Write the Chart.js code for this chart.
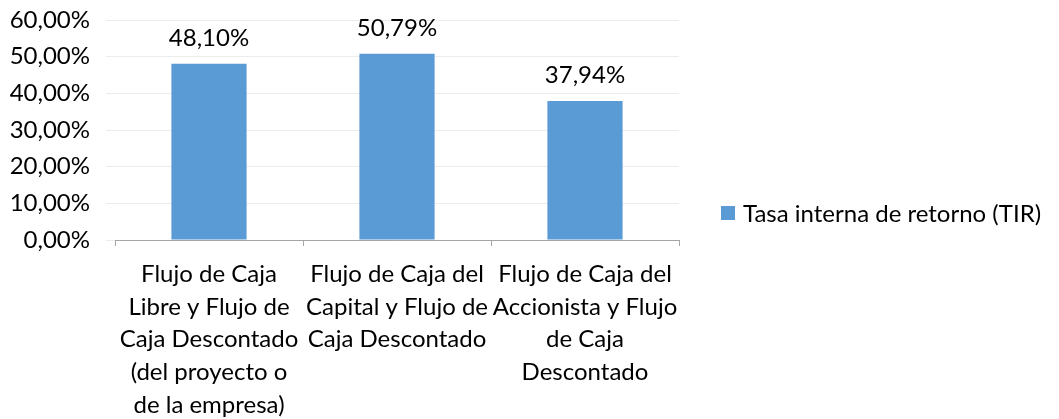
<!DOCTYPE html>
<html>
<head>
<meta charset="utf-8">
<script src="https://cdn.jsdelivr.net/npm/chart.js@4"></script>
<style>
  html, body { margin: 0; padding: 0; background: #fff; }
  #wrap { position: relative; width: 1059px; height: 419px; }
  #legend {
    position: absolute; left: 721px; top: 198px;
    font-family: Lato, sans-serif; font-size: 24px; color: #000;
    display: flex; align-items: center; white-space: nowrap;
  }
  #legend span.box { display: inline-block; width: 14px; height: 14px; background: #5B9BD5; margin-right: 8px; }
</style>
</head>
<body>
<div id="wrap">
  <canvas id="barChart" width="1059" height="419"></canvas>
  <div id="legend"></div>
</div>
<script>
const categories = [
  ['Flujo de Caja', 'Libre y Flujo de', 'Caja Descontado', '(del proyecto o', 'de la empresa)'],
  ['Flujo de Caja del', 'Capital y Flujo de', 'Caja Descontado'],
  ['Flujo de Caja del', 'Accionista y Flujo', 'de Caja', 'Descontado']
];
const tirValues = [0.4810, 0.5079, 0.3794];
const seriesName = 'Tasa interna de retorno (TIR)';
const yTicks = [0, 0.1, 0.2, 0.3, 0.4, 0.5, 0.6];

const fmt = v => (v * 100).toFixed(2).replace('.', ',') + '%';
const FONT = 'Lato, sans-serif';

document.getElementById('legend').innerHTML =
  '<span class="box"></span>' + seriesName;

const valueLabels = {
  id: 'valueLabels',
  afterDatasetsDraw(chart) {
    const ctx = chart.ctx;
    const meta = chart.getDatasetMeta(0);
    ctx.save();
    ctx.font = '24px ' + FONT;
    ctx.fillStyle = '#000';
    ctx.textAlign = 'center';
    ctx.textBaseline = 'alphabetic';
    meta.data.forEach((bar, i) => {
      ctx.fillText(fmt(tirValues[i]), bar.x, bar.y - 18);
    });
    ctx.restore();
  }
};

const ctx = document.getElementById('barChart').getContext('2d');
new Chart(ctx, {
  type: 'bar',
  data: {
    labels: categories,
    datasets: [{
      label: seriesName,
      data: tirValues,
      backgroundColor: '#5B9BD5',
      borderWidth: 0,
      barPercentage: 0.4,
      categoryPercentage: 1
    }]
  },
  options: {
    responsive: false,
    animation: false,
    layout: { padding: { top: 20, right: 380, left: 0, bottom: 0 } },
    plugins: { legend: { display: false }, tooltip: { enabled: false } },
    scales: {
      x: {
        grid: {
          offset: true,
          drawOnChartArea: false,
          color: '#A6A6A6',
          tickLength: 6
        },
        border: { color: '#A6A6A6', width: 1 },
        ticks: {
          color: '#000',
          font: { family: FONT, size: 24, lineHeight: 1.36 },
          maxRotation: 0,
          autoSkip: false,
          padding: 12
        },
        afterFit(scale) {
          scale.height = 179;
          scale.paddingLeft = 0;
          scale.paddingRight = 0;
        }
      },
      y: {
        min: 0,
        max: 0.6,
        afterBuildTicks(scale) { scale.ticks = yTicks.map(v => ({ value: v })); },
        grid: { color: '#ECECEC', tickLength: 9 },
        border: { display: false },
        ticks: {
          color: '#000',
          font: { family: FONT, size: 24 },
          padding: 16,
          callback: v => fmt(v)
        },
        afterFit(scale) {
          scale.width = 115;
          scale.paddingTop = 0;
          scale.paddingBottom = 0;
        }
      }
    }
  },
  plugins: [valueLabels]
});
</script>
</body>
</html>
